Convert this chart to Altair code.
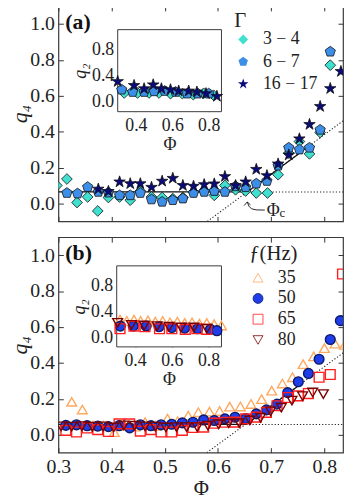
import altair as alt
import pandas as pd

# ---------------- data ----------------
# panel (a): q4 vs Phi for three Gamma ranges
A_LABELS = ["3 − 4", "6 − 7", "16 − 17"]
a1_phi = [0.297, 0.316, 0.335, 0.355, 0.374, 0.394, 0.415, 0.435, 0.454, 0.475, 0.495, 0.515, 0.534, 0.554,
          0.574, 0.593, 0.613, 0.633, 0.652, 0.672, 0.693, 0.713, 0.733, 0.753, 0.772, 0.792, 0.811]
a1_q = [0.10, 0.136, 0.005, 0.036, -0.042, 0.033, 0.036, 0.018, 0.069, 0.036, 0.033, 0.027, 0.033, 0.064,
        0.073, 0.045, 0.10, 0.076, 0.069, 0.058, 0.058, 0.16, 0.28, 0.345, 0.276, 0.395, 0.77]
a2_phi = [0.316, 0.336, 0.355, 0.375, 0.394, 0.415, 0.435, 0.454, 0.475, 0.495, 0.515, 0.534, 0.554, 0.574,
          0.593, 0.613, 0.633, 0.652, 0.672, 0.692, 0.713, 0.733, 0.753, 0.772, 0.792, 0.811]
a2_q = [0.058, 0.055, 0.091, 0.064, 0.06, 0.045, 0.045, 0.058, 0.022, 0.009, 0.018, 0.027, 0.058, 0.064,
        0.069, 0.064, 0.095, 0.09, 0.11, 0.125, 0.21, 0.31, 0.30, 0.31, 0.41, 0.845]
a3_phi = [0.375, 0.394, 0.415, 0.435, 0.454, 0.475, 0.495, 0.515, 0.534, 0.554, 0.574, 0.593, 0.613, 0.633,
          0.652, 0.672, 0.692, 0.713, 0.733, 0.753, 0.772, 0.792, 0.811, 0.831]
a3_q = [0.08, 0.067, 0.12, 0.11, 0.11, 0.09, 0.124, 0.14, 0.10, 0.096, 0.105, 0.109, 0.15, 0.10,
        0.12, 0.19, 0.155, 0.22, 0.27, 0.36, 0.44, 0.54, 0.64, 0.735]
# inset (a): q2 vs Phi
ia1_phi = [0.336, 0.409, 0.472, 0.527, 0.59, 0.655, 0.715, 0.772, 0.827]
ia1_q = [0.135, 0.135, 0.135, 0.135, 0.125, 0.125, 0.11, 0.13, 0.10]
ia2_phi = [0.322, 0.382, 0.445, 0.5, 0.558, 0.618, 0.682, 0.74, 0.8]
ia2_q = [0.185, 0.15, 0.15, 0.16, 0.165, 0.15, 0.125, 0.125, 0.125]
ia3_phi = [0.3, 0.39, 0.445, 0.495, 0.54, 0.59, 0.635, 0.69, 0.735, 0.785, 0.845]
ia3_q = [0.31, 0.25, 0.2, 0.26, 0.2, 0.185, 0.165, 0.165, 0.15, 0.125, 0.084]

# panel (b): q4 vs Phi for four frequencies
B_LABELS = ["35", "50", "65", "80"]
b1_phi = [0.325, 0.345, 0.365, 0.384, 0.405, 0.424, 0.444, 0.463, 0.483, 0.505, 0.524, 0.544, 0.563, 0.584,
          0.603, 0.622, 0.642, 0.662, 0.682, 0.701, 0.721, 0.740, 0.760, 0.780, 0.800, 0.820, 0.838]
b1_q = [0.183, 0.14, 0.05, 0.05, 0.014, 0.05, 0.045, 0.07, 0.05, 0.09, 0.075, 0.106, 0.125, 0.128,
        0.132, 0.156, 0.157, 0.171, 0.198, 0.245, 0.285, 0.32, 0.393, 0.436, 0.482, 0.507, 0.50]
b2_phi = [0.314, 0.334, 0.354, 0.374, 0.394, 0.414, 0.434, 0.454, 0.474, 0.493, 0.513, 0.533, 0.553, 0.573,
          0.593, 0.613, 0.632, 0.652, 0.672, 0.691, 0.711, 0.731, 0.751, 0.770, 0.790, 0.811, 0.830]
b2_q = [0.052, 0.055, 0.05, 0.048, 0.045, 0.05, 0.038, 0.055, 0.05, 0.055, 0.058, 0.066, 0.069, 0.082,
        0.079, 0.088, 0.097, 0.09, 0.116, 0.138, 0.17, 0.234, 0.295, 0.341, 0.42, 0.53, 0.635]
b3_phi = [0.314, 0.334, 0.354, 0.374, 0.394, 0.414, 0.434, 0.454, 0.474, 0.493, 0.513, 0.533, 0.553, 0.573,
          0.593, 0.613, 0.632, 0.652, 0.672, 0.691, 0.711, 0.731, 0.751, 0.770, 0.790, 0.811, 0.834]
b3_q = [0.024, 0.015, 0.037, 0.028, 0.018, 0.06, 0.06, 0.02, 0.028, 0.015, 0.015, 0.024, 0.04, 0.042,
        0.064, 0.069, 0.07, 0.088, 0.098, 0.124, 0.161, 0.207, 0.216, 0.229, 0.32, 0.335, 0.895]
b4_phi = [0.305, 0.325, 0.344, 0.364, 0.384, 0.404, 0.423, 0.443, 0.463, 0.482, 0.502, 0.522, 0.541, 0.561,
          0.581, 0.601, 0.620, 0.640, 0.660, 0.680, 0.699, 0.719, 0.739, 0.759, 0.778, 0.798]
b4_q = [0.046, 0.045, 0.048, 0.045, 0.046, 0.04, 0.052, 0.05, 0.046, 0.045, 0.04, 0.042, 0.042, 0.042,
        0.05, 0.058, 0.064, 0.064, 0.079, 0.094, 0.13, 0.15, 0.19, 0.215, 0.235, 0.226]
# inset (b)
ib1_phi = [0.318, 0.355, 0.394, 0.43, 0.47, 0.51, 0.55, 0.59, 0.63, 0.67, 0.71, 0.75, 0.79, 0.83, 0.87]
ib1_q = [0.27, 0.25, 0.27, 0.25, 0.26, 0.24, 0.25, 0.23, 0.24, 0.22, 0.23, 0.21, 0.22, 0.2, 0.18]
ib2_phi = [0.32, 0.39, 0.46, 0.53, 0.6, 0.67, 0.74, 0.81, 0.845]
ib2_q = [0.17, 0.17, 0.17, 0.16, 0.15, 0.14, 0.13, 0.12, 0.1]
ib3_phi = [0.318, 0.394, 0.454, 0.533, 0.6, 0.673, 0.736, 0.79]
ib3_q = [0.13, 0.17, 0.16, 0.13, 0.13, 0.12, 0.13, 0.12]
ib4_phi = [0.305, 0.38, 0.45, 0.52, 0.585, 0.65, 0.72, 0.79]
ib4_q = [0.22, 0.19, 0.18, 0.17, 0.16, 0.15, 0.15, 0.13]

# fit lines (plateau + linear rise) and guide lines
a_solid_phi = [0.3, 0.655, 0.755]
a_solid_q = [0.064, 0.064, 0.284]
a_dotH_phi = [0.655, 0.835]
a_dotH_q = [0.064, 0.064]
a_dotD_phi = [0.58, 0.835]
a_dotD_q = [-0.1, 0.46]
b_solid_phi = [0.3, 0.653, 0.75]
b_solid_q = [0.057, 0.057, 0.27]
b_dotH_phi = [0.653, 0.835]
b_dotH_q = [0.057, 0.057]
b_dotD_phi = [0.579, 0.835]
b_dotD_q = [-0.1, 0.455]

# Phi_c annotation (panel a)
arc_phi = [0.655, 0.658, 0.663, 0.672, 0.688]
arc_q = [0.008, -0.015, -0.03, -0.036, -0.037]
head_phi = [0.649, 0.655, 0.661]
head_q = [-0.012, 0.008, -0.008]
ann_text = ["Φ", "c"]
ann_phi = [0.704, 0.721]
ann_q = [-0.04, -0.056]
ann_size = [18, 13]

# ---------------- style ----------------
FONT = "Liberation Serif, DejaVu Serif, serif"
TXT = "#222222"
W, H = 288, 218
X_DOM = [0.3, 0.835]
Y_DOM = [-0.1, 1.1]
X_TICKS = [0.3, 0.4, 0.5, 0.6, 0.7, 0.8]
Y_TICKS = [0.0, 0.2, 0.4, 0.6, 0.8, 1.0]
IX_DOM = [0.3, 0.87]
IY_DOM = [-0.15, 1.1]
IX_TICKS = [0.4, 0.6, 0.8]
IY_TICKS = [0.0, 0.4, 0.8]
TS, ITS = 5, 4
FRAME = "#3a3a3a"

PENTAGON = "M0,-1L0.951,-0.309L0.588,0.809L-0.588,0.809L-0.951,-0.309Z"
STAR = ("M0,-1.12L0.252,-0.346L1.065,-0.346L0.407,0.132L0.659,0.906L0,0.428"
        "L-0.659,0.906L-0.407,0.132L-1.065,-0.346L-0.252,-0.346Z")
A_SHAPES = ["diamond", PENTAGON, STAR]
A_FILLS = ["#40E0D0", "#3D8EE6", "#0A0A7A"]
B_SHAPES = ["triangle-up", "circle", "square", "triangle-down"]
B_FILLS = ["transparent", "#1F3DE8", "transparent", "transparent"]
B_STROKES = ["#FFA860", "#0B1A6A", "#FF1F1F", "#7B0000"]


def frame_df(groups):
    rows = []
    for lab, phis, qs in groups:
        for p, q in zip(phis, qs):
            rows.append({"phi": p, "q": q, "g": lab})
    return pd.DataFrame(rows)


def seg_df(segs):
    rows = []
    for s, (phis, qs) in enumerate(segs):
        for i, (p, q) in enumerate(zip(phis, qs)):
            rows.append({"phi": p, "q": q, "seg": s, "i": i})
    return pd.DataFrame(rows)


def axis(**kw):
    base = dict(domain=False, grid=False, tickColor="#333333", tickWidth=1,
                labelFont=FONT, titleFont=FONT, labelColor=TXT, titleColor=TXT,
                titleFontWeight="normal", labelOverlap=False, labelFlush=False)
    base.update(kw)
    return alt.Axis(**base)


def sx():
    return alt.Scale(domain=X_DOM, nice=False, zero=False)


def sy():
    return alt.Scale(domain=Y_DOM, nice=False, zero=False)


def isx(r):
    return alt.Scale(domain=IX_DOM, range=[r[0], r[1]], nice=False, zero=False)


def isy(r):
    return alt.Scale(domain=IY_DOM, range=[r[2], r[3]], nice=False, zero=False)


def legend(title, lx, ly, tpad, rpad):
    return alt.Legend(orient="none", legendX=lx, legendY=ly, title=title, titleFont=FONT,
                      titleFontSize=21, titleFontWeight="normal", titleColor=TXT, titlePadding=tpad,
                      labelFont=FONT, labelFontSize=18, labelColor=TXT, labelOffset=11,
                      rowPadding=rpad, padding=0, symbolStrokeColor="#111111", symbolStrokeWidth=0.8)


def make_panel(tag, pts_df, ins_df, solid, dots, enc_extra, mark_kw, irng, show_x, annot):
    x_bottom = axis(orient="bottom", values=X_TICKS, format=".1f", tickSize=TS, offset=-TS,
                    labels=show_x, labelFontSize=20, labelPadding=4,
                    title="Φ" if show_x else None, titleFontSize=21, titlePadding=1)
    y_left = axis(orient="left", values=Y_TICKS, format=".1f", tickSize=TS, offset=-TS,
                  labelFontSize=20, labelPadding=4, title="q₄", titleFontSize=22,
                  titleFontStyle="italic", titleX=-32)
    x_top = axis(orient="top", values=X_TICKS, tickSize=TS, offset=-TS, labels=False, title=None)
    y_right = axis(orient="right", values=Y_TICKS, tickSize=TS, offset=-TS, labels=False, title=None)

    pts = alt.Chart(pts_df).mark_point(clip=True, opacity=1, **mark_kw).encode(
        x=alt.X("phi:Q", scale=sx(), axis=x_bottom),
        y=alt.Y("q:Q", scale=sy(), axis=y_left),
        **enc_extra,
    )
    solid_l = alt.Chart(seg_df([solid])).mark_line(color="#111111", strokeWidth=1.3, clip=True).encode(
        x=alt.X("phi:Q", scale=sx(), axis=x_top),
        y=alt.Y("q:Q", scale=sy(), axis=y_right),
        order="i:Q",
    )
    dot_l = alt.Chart(seg_df(dots)).mark_line(color="#222222", strokeWidth=1.1, strokeDash=[1.2, 2],
                                              clip=True).encode(
        x=alt.X("phi:Q", scale=sx(), axis=None),
        y=alt.Y("q:Q", scale=sy(), axis=None),
        detail="seg:N", order="i:Q",
    )
    lab = alt.Chart(pd.DataFrame({"t": [tag]})).mark_text(
        font=FONT, fontSize=22, fontWeight="bold", align="left", baseline="middle", color="#111111"
    ).encode(x=alt.value(7), y=alt.value(16), text="t:N")
    layers = [dot_l, solid_l, pts]
    if annot:
        arrow = alt.Chart(seg_df([(arc_phi, arc_q), (head_phi, head_q)])).mark_line(
            color="#111111", strokeWidth=0.9).encode(
            x=alt.X("phi:Q", scale=sx(), axis=None), y=alt.Y("q:Q", scale=sy(), axis=None),
            detail="seg:N", order="i:Q")
        txt = alt.Chart(pd.DataFrame({"t": ann_text, "phi": ann_phi, "q": ann_q, "s": ann_size})).mark_text(
            font=FONT, color=TXT, align="center", baseline="middle").encode(
            x=alt.X("phi:Q", scale=sx(), axis=None), y=alt.Y("q:Q", scale=sy(), axis=None),
            text="t:N", size=alt.Size("s:Q", scale=None, legend=None))
        layers += [arrow, txt]
    layers.append(lab)
    main = alt.layer(*layers).resolve_axis(x="independent", y="independent")

    x0, x1, yb, yt = irng
    ix_bottom = axis(orient="bottom", values=IX_TICKS, format=".1f", tickSize=ITS, offset=(yb - ITS) - H,
                     labelFontSize=18, labelPadding=5, title="Φ", titleFontSize=18, titlePadding=1)
    iy_left = axis(orient="left", values=IY_TICKS, format=".1f", tickSize=ITS, offset=-(x0 + ITS),
                   labelFontSize=18, labelPadding=4, title="q₂", titleFontSize=18,
                   titleFontStyle="italic", titlePadding=2)
    ix_top = axis(orient="top", values=IX_TICKS, tickSize=ITS, offset=-(yt + ITS), labels=False, title=None)
    iy_right = axis(orient="right", values=IY_TICKS, tickSize=ITS, offset=(x1 - ITS) - W,
                    labels=False, title=None)
    box = alt.Chart(pd.DataFrame({"x0": [IX_DOM[0]], "x1": [IX_DOM[1]], "y0": [IY_DOM[0]], "y1": [IY_DOM[1]]})
                    ).mark_rect(fill="white", stroke=FRAME, strokeWidth=1).encode(
        x=alt.X("x0:Q", scale=isx(irng), axis=ix_top), x2="x1:Q",
        y=alt.Y("y0:Q", scale=isy(irng), axis=iy_right), y2="y1:Q",
    )
    ipts = alt.Chart(ins_df).mark_point(opacity=1, **mark_kw).encode(
        x=alt.X("phi:Q", scale=isx(irng), axis=ix_bottom),
        y=alt.Y("q:Q", scale=isy(irng), axis=iy_left),
        **enc_extra,
    )
    inset = alt.layer(box, ipts).resolve_axis(x="independent", y="independent")
    return alt.layer(main, inset).resolve_scale(x="independent", y="independent").properties(width=W, height=H)


leg_a = legend("Γ", 178, 4, 0, 4.5)
enc_a = dict(
    shape=alt.Shape("g:N", scale=alt.Scale(domain=A_LABELS, range=A_SHAPES), legend=leg_a),
    fill=alt.Fill("g:N", scale=alt.Scale(domain=A_LABELS, range=A_FILLS), legend=leg_a),
)
leg_b = legend("ƒ(Hz)", 193, 6, 5, 3)
enc_b = dict(
    shape=alt.Shape("g:N", scale=alt.Scale(domain=B_LABELS, range=B_SHAPES), legend=leg_b),
    fill=alt.Fill("g:N", scale=alt.Scale(domain=B_LABELS, range=B_FILLS), legend=leg_b),
    stroke=alt.Stroke("g:N", scale=alt.Scale(domain=B_LABELS, range=B_STROKES), legend=leg_b),
)

pa = frame_df([(A_LABELS[0], a1_phi, a1_q), (A_LABELS[1], a2_phi, a2_q), (A_LABELS[2], a3_phi, a3_q)])
ia = frame_df([(A_LABELS[0], ia1_phi, ia1_q), (A_LABELS[1], ia2_phi, ia2_q), (A_LABELS[2], ia3_phi, ia3_q)])
pb = frame_df([(B_LABELS[0], b1_phi, b1_q), (B_LABELS[1], b2_phi, b2_q),
               (B_LABELS[2], b3_phi, b3_q), (B_LABELS[3], b4_phi, b4_q)])
ib = frame_df([(B_LABELS[0], ib1_phi, ib1_q), (B_LABELS[1], ib2_phi, ib2_q),
               (B_LABELS[2], ib3_phi, ib3_q), (B_LABELS[3], ib4_phi, ib4_q)])

panel_a = make_panel("(a)", pa, ia, (a_solid_phi, a_solid_q),
                     [(a_dotH_phi, a_dotH_q), (a_dotD_phi, a_dotD_q)], enc_a,
                     dict(filled=True, stroke="#111111", strokeWidth=0.8, size=118),
                     (60, 165, 107, 24), False, True)
panel_b = make_panel("(b)", pb, ib, (b_solid_phi, b_solid_q),
                     [(b_dotH_phi, b_dotH_q), (b_dotD_phi, b_dotD_q)], enc_b,
                     dict(strokeWidth=1.4, size=98),
                     (59, 165, 111, 29), True, False)

chart = alt.vconcat(panel_a, panel_b, spacing=12).resolve_scale(
    x="independent", y="independent", shape="independent", fill="independent", stroke="independent"
).properties(
    padding={"left": 0, "top": -7, "right": 0, "bottom": -4}, background="white"
).configure_view(stroke=FRAME, strokeWidth=1.2)

chart.save("out.html", embed_options={"renderer": "svg", "actions": False})
